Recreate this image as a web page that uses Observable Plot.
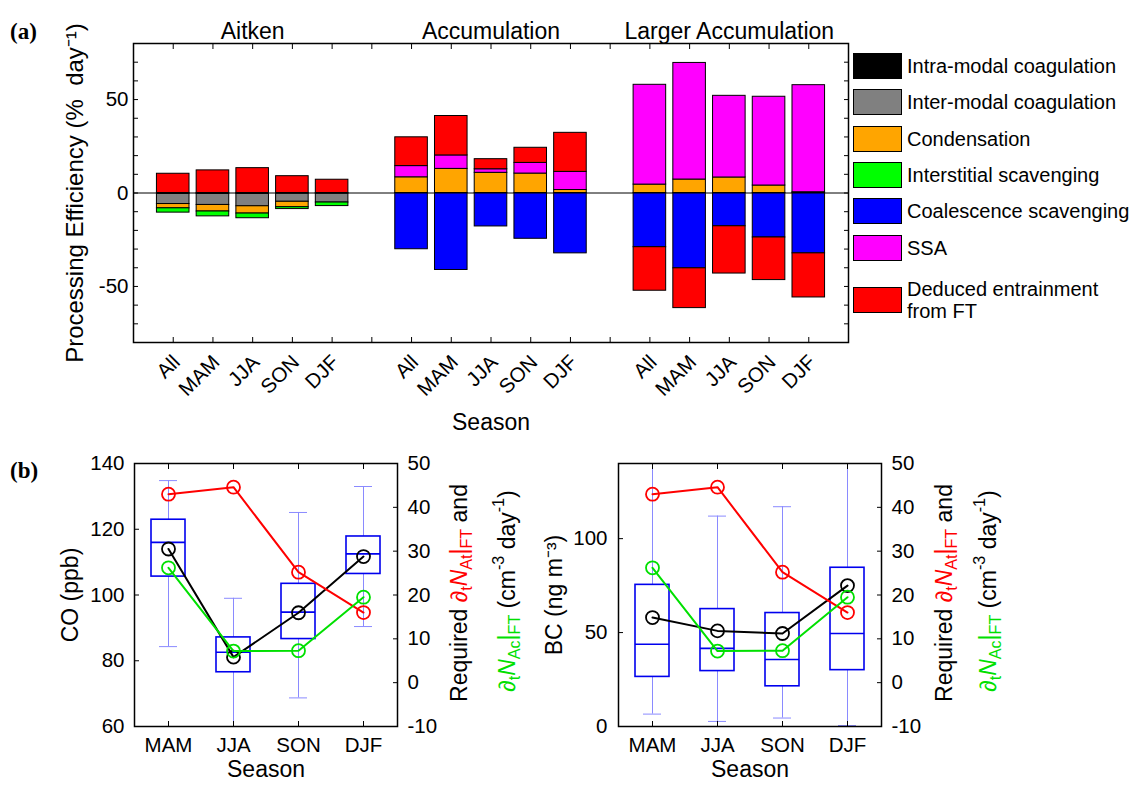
<!DOCTYPE html>
<html>
<head>
<meta charset="utf-8">
<title>Aerosol processing efficiency and seasonal CO / BC</title>
<script src="https://cdn.jsdelivr.net/npm/d3@7"></script>
<script src="https://cdn.jsdelivr.net/npm/@observablehq/plot@0.6"></script>
<style>
  html, body { margin: 0; padding: 0; background: #fff; }
  #fig { position: relative; width: 1132px; height: 788px; overflow: hidden; background: #fff;
         font-family: "Liberation Sans", Arial, Helvetica, sans-serif; color: #000; }
  #fig svg { position: absolute; }
  .panel-tag { position: absolute; font-family: "Liberation Serif", "Times New Roman", serif; font-weight: bold; font-size: 23px; line-height: 1; }
  .rot { position: absolute; transform: translate(-50%, -50%) rotate(-90deg); white-space: nowrap; line-height: 1; font-size: 23px; }
  .rot sub, .rot sup { font-size: 0.7em; line-height: 0; }
  .rot sub { vertical-align: -0.35em; }
  .rot sup { vertical-align: 0.65em; }
  .rot .red { color: #ff0000; }
  .rot .green { color: #00e000; }
  .legend { position: absolute; left: 853px; top: 48px; font-size: 20px; }
  .legend .row { display: flex; align-items: center; height: 36.3px; }
  .legend .row.tall { height: 69px; }
  .legend .swatch { width: 47px; height: 24px; border: 1.5px solid #000; margin-right: 5px; flex: none; }
  .legend .lab { line-height: 22px; white-space: nowrap; }
</style>
</head>
<body>
<div id="fig"></div>
<script>
// ---------- Panel (a): processing efficiency by mode and season ----------
const seasons = ["All", "MAM", "JJA", "SON", "DJF"];
const modes = ["Aitken", "Accumulation", "Larger Accumulation"];
const processes = [
  "Intra-modal coagulation",
  "Inter-modal coagulation",
  "Condensation",
  "Interstitial scavenging",
  "Coalescence scavenging",
  "SSA",
  "Deduced entrainment from FT"
];
const processColors = ["#000000", "#808080", "#ffa500", "#00ff00", "#0000ff", "#ff00ff", "#ff0000"];

// % day^-1, ordered Aitken (All, MAM, JJA, SON, DJF), Accumulation (...), Larger Accumulation (...)
const intraModal   = [-0.5, -0.5, -0.5, -0.4, -0.4,   0, 0, 0, 0, 0,   0, 0, 0, 0, 0];
const interModal   = [-5.4, -5.9, -6.6, -4.3, -4.7,   0, 0, 0, 0, 0,   0, 0, 0, 0, 0];
const condensation = [-2.3, -3.5, -3.9, -2.9, 0,      8.4, 12.9, 10.8, 10.4, 1.6,   4.5, 7.2, 8.3, 4.0, 0.4];
const interstitial = [-2.3, -2.6, -2.5, -1.0, -1.9,   0, 0, 0, 0, 0,   0, 0, 0, 0, 0];
const coalescence  = [0, 0, 0, 0, 0,   -30.1, -41.2, -17.9, -24.5, -32.3,   -29.0, -40.3, -17.8, -23.8, -32.3];
const ssa          = [0, 0, 0, 0, 0,   6.0, 7.2, 1.9, 5.7, 9.7,   53.4, 62.4, 43.7, 47.5, 57.3];
const entrainment  = [10.3, 12.1, 13.3, 9.0, 7.1,   15.4, 21.1, 5.4, 8.1, 20.9,   -23.3, -21.3, -25.3, -22.8, -23.6];

// ---------- Panel (b): seasonal CO and BC with required FT entrainment ----------
const bSeasons = ["MAM", "JJA", "SON", "DJF"];
const coLow    = [84.3, 60.0, 68.7, 90.4];
const coQ1     = [105.6, 76.5, 86.6, 106.4];
const coMedian = [116.0, 82.6, 94.8, 112.5];
const coQ3     = [122.9, 87.1, 103.4, 117.8];
const coHigh   = [134.8, 99.0, 125.1, 133.0];
const coMean   = [114.0, 81.1, 94.6, 111.7];
const bcLow    = [6.6, 2.7, 4.5, 0.5];
const bcQ1     = [26.4, 29.5, 21.4, 30.0];
const bcMedian = [43.8, 41.6, 35.7, 49.5];
const bcQ3     = [75.4, 62.5, 60.4, 84.5];
const bcHigh   = [150, 112.0, 117.0, 150];
const bcMean   = [58.0, 50.9, 49.5, 75.0];
const requiredAt = [43.0, 44.6, 25.2, 16.0];   // ∂t N_At|FT, cm^-3 day^-1
const requiredAc = [26.2, 7.2, 7.3, 19.5];     // ∂t N_Ac|FT, cm^-3 day^-1

const FONT = "'Liberation Sans', Arial, Helvetica, sans-serif";
const fig = document.getElementById("fig");
function place(el, left, top) {
  el.style.left = left + "px";
  el.style.top = top + "px";
  fig.appendChild(el);
  return el;
}
function rotLabel(html, cx, cy) {
  const d = document.createElement("div");
  d.className = "rot";
  d.style.left = cx + "px";
  d.style.top = cy + "px";
  d.innerHTML = html;
  fig.appendChild(d);
}
function tag(text, left, top) {
  const d = document.createElement("div");
  d.className = "panel-tag";
  d.textContent = text;
  d.style.left = left + "px";
  d.style.top = top + "px";
  fig.appendChild(d);
}

// one row per bar segment, in legend order so the stack builds outward from zero
const processSeries = [intraModal, interModal, condensation, interstitial, coalescence, ssa, entrainment];
const segments = [];
const seasonTicks = [];
modes.forEach((mode, mi) => seasons.forEach((season, si) => {
  const pos = mi * 6 + si + 1;
  seasonTicks.push({pos, season});
  processSeries.forEach((vals, pi) => {
    const value = vals[mi * 5 + si];
    if (value !== 0) segments.push({pos, mode, season, process: processes[pi], value});
  });
}));

const halfBar = 0.41;
const panelA = Plot.plot({
  width: 852, height: 440,
  marginLeft: 133, marginRight: 4, marginTop: 43, marginBottom: 98,
  style: {fontFamily: FONT, background: "transparent", overflow: "visible"},
  x: {domain: [0, 18]},
  y: {domain: [-80, 80]},
  color: {domain: processes, range: processColors},
  marks: [
    Plot.rectY(segments, {
      x1: d => d.pos - halfBar, x2: d => d.pos + halfBar, y: "value",
      fill: "process", stroke: "black", strokeWidth: 1
    }),
    Plot.ruleY([0], {stroke: "black", strokeWidth: 1}),
    Plot.axisX({anchor: "bottom", ticks: d3.range(1, 18), tickSize: -5, tickFormat: () => "", label: null}),
    Plot.axisX({anchor: "top", ticks: d3.range(1, 18), tickSize: -5, tickFormat: () => "", label: null}),
    Plot.axisY({anchor: "left", ticks: d3.range(-80, 81, 10), tickSize: -5, tickFormat: () => "", label: null}),
    Plot.axisY({anchor: "right", ticks: d3.range(-80, 81, 10), tickSize: -5, tickFormat: () => "", label: null}),
    Plot.axisY({anchor: "left", ticks: [-50, 0, 50], tickSize: 0, tickPadding: 5, tickFormat: String, fontSize: 20.5, label: null}),
    Plot.text(seasonTicks, {
      x: "pos", text: "season", frameAnchor: "bottom",
      rotate: -45, textAnchor: "end", dx: 8, dy: 21, fontSize: 20.5
    }),
    Plot.text(modes, {x: (d, i) => i * 6 + 3, text: d => d, frameAnchor: "top", textAnchor: "middle", dy: -21, fontSize: 23}),
    Plot.text(["Season"], {frameAnchor: "bottom", textAnchor: "middle", dy: 87, fontSize: 23}),
    Plot.text(["Processing Efficiency (%  day\u207B\u00B9)"], {
      frameAnchor: "left", textAnchor: "middle", dx: -58, rotate: -90, fontSize: 24
    }),
    Plot.frame({stroke: "black", strokeWidth: 1.5})
  ]
});
place(panelA, 0, 0);

// legend for the processes
const legend = document.createElement("div");
legend.className = "legend";
processes.forEach((p, i) => {
  const row = document.createElement("div");
  row.className = "row" + (i === processes.length - 1 ? " tall" : "");
  const sw = document.createElement("span");
  sw.className = "swatch";
  sw.style.background = processColors[i];
  const lab = document.createElement("span");
  lab.className = "lab";
  lab.innerHTML = p.replace(" from FT", "<br>from FT");
  row.append(sw, lab);
  legend.appendChild(row);
});
fig.appendChild(legend);

// ---------- Panel (b) builder: box plot on the left axis, FT rates on the right axis ----------
const BOX = "#0000ee";
const WHISKER = "#8a8aff";
const RED = "#ff0000";
const GREEN = "#00e000";

function seasonalPanel({left, stats, yDomain, yTicks, yTickPadding, yLabel, rightLabelX}) {
  const rows = bSeasons.map((season, i) => ({
    season,
    low: stats.low[i], q1: stats.q1[i], median: stats.median[i],
    q3: stats.q3[i], high: stats.high[i], mean: stats.mean[i],
    at: requiredAt[i], ac: requiredAc[i]
  }));
  const common = {
    width: 450, height: 348,
    marginLeft: 134, marginRight: 53, marginTop: 23, marginBottom: 62,
    style: {fontFamily: FONT, background: "transparent", overflow: "visible"}
  };
  const xBand = {type: "band", domain: bSeasons, paddingInner: 0.48, paddingOuter: 0.24};

  const base = Plot.plot({
    ...common,
    x: xBand,
    y: {domain: yDomain},
    marks: [
      Plot.ruleX(rows, {x: "season", y1: "low", y2: "q1", stroke: WHISKER, strokeWidth: 1, clip: true}),
      Plot.ruleX(rows, {x: "season", y1: "q3", y2: "high", stroke: WHISKER, strokeWidth: 1, clip: true}),
      Plot.tickY(rows, {x: "season", y: "low", stroke: WHISKER, strokeWidth: 1, insetLeft: 8, insetRight: 8, clip: true}),
      Plot.tickY(rows, {x: "season", y: "high", stroke: WHISKER, strokeWidth: 1, insetLeft: 8, insetRight: 8, clip: true}),
      Plot.barY(rows, {x: "season", y1: "q1", y2: "q3", fill: "none", stroke: BOX, strokeWidth: 1.6}),
      Plot.tickY(rows, {x: "season", y: "median", stroke: BOX, strokeWidth: 1.6}),
      Plot.line(rows, {x: "season", y: "mean", stroke: "black", strokeWidth: 2}),
      Plot.dot(rows, {x: "season", y: "mean", r: 6.5, stroke: "black", strokeWidth: 1.8}),
      Plot.axisX({anchor: "bottom", tickSize: -5, tickFormat: () => "", label: null}),
      Plot.axisX({anchor: "top", tickSize: -5, tickFormat: () => "", label: null}),
      Plot.axisY({anchor: "left", ticks: yTicks, tickSize: -5, tickFormat: () => "", label: null}),
      Plot.axisY({anchor: "left", ticks: yTicks, tickSize: 0, tickPadding: yTickPadding, tickFormat: String, fontSize: 20.5, label: null}),
      Plot.text(bSeasons, {x: d => d, frameAnchor: "bottom", textAnchor: "middle", dy: 25, fontSize: 20.5}),
      Plot.text(["Season"], {frameAnchor: "bottom", textAnchor: "middle", dy: 50, fontSize: 23}),
      Plot.text([yLabel], {frameAnchor: "left", textAnchor: "middle", dx: -64, rotate: -90, fontSize: 23}),
      Plot.frame({stroke: "black", strokeWidth: 1.5})
    ]
  });

  const rightTicks = d3.range(-10, 51, 10);
  const over = Plot.plot({
    ...common,
    x: {...xBand, axis: null},
    y: {domain: [-10, 50]},
    marks: [
      Plot.line(rows, {x: "season", y: "at", stroke: RED, strokeWidth: 2}),
      Plot.dot(rows, {x: "season", y: "at", r: 6.5, stroke: RED, strokeWidth: 1.8}),
      Plot.line(rows, {x: "season", y: "ac", stroke: GREEN, strokeWidth: 2}),
      Plot.dot(rows, {x: "season", y: "ac", r: 6.5, stroke: GREEN, strokeWidth: 1.8}),
      Plot.axisY({anchor: "right", ticks: rightTicks, tickSize: -5, tickFormat: () => "", label: null}),
      Plot.axisY({anchor: "right", ticks: rightTicks, tickSize: 0, tickPadding: 10, tickFormat: String, fontSize: 20.5, label: null})
    ]
  });

  place(base, left, 440);
  place(over, left, 440);

  rotLabel('Required <span class="red">\u2202<sub>t</sub><i>N</i><sub>At</sub>|<sub>FT</sub></span> and',
           rightLabelX[0], 593);
  rotLabel('<span class="green">\u2202<sub>t</sub><i>N</i><sub>Ac</sub>|<sub>FT</sub></span> (cm<sup>-3</sup> day<sup>-1</sup>)',
           rightLabelX[1], 591);
}

seasonalPanel({
  left: 0,
  stats: {low: coLow, q1: coQ1, median: coMedian, q3: coQ3, high: coHigh, mean: coMean},
  yDomain: [60, 140], yTicks: [60, 80, 100, 120, 140], yTickPadding: 10,
  yLabel: "CO (ppb)", rightLabelX: [459, 507]
});
seasonalPanel({
  left: 484,
  stats: {low: bcLow, q1: bcQ1, median: bcMedian, q3: bcQ3, high: bcHigh, mean: bcMean},
  yDomain: [0, 140], yTicks: [0, 50, 100], yTickPadding: 11,
  yLabel: "BC (ng m\u207B\u00B3)", rightLabelX: [944, 988]
});

tag("(a)", 10, 20);
tag("(b)", 10, 459);
</script>
</body>
</html>
